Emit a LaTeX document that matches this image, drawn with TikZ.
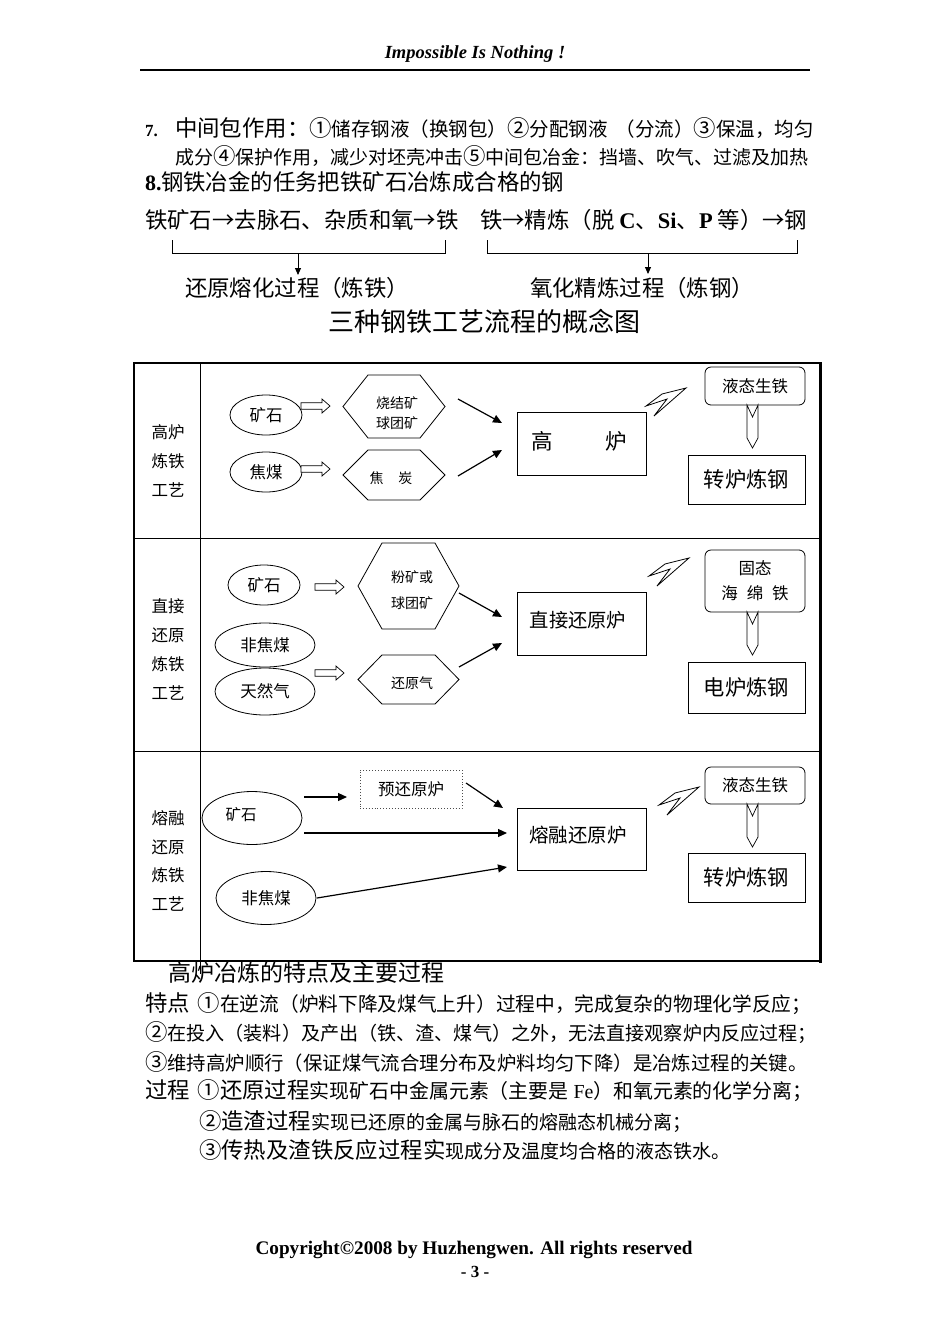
\documentclass[tikz,border=0pt]{standalone}
\usepackage{fontspec}
\setmainfont{Liberation Serif}
\newfontfamily\cjk{Noto Sans CJK SC}
\usetikzlibrary{arrows.meta,shapes.geometric}
\newcommand{\fsz}[1]{\fontsize{#1}{#1}\selectfont}
\newcommand{\BG}{\cjk\fontsize{22.4}{26}\selectfont}
\newcommand{\SM}{\cjk\fontsize{19}{22}\selectfont}
\newcommand{\SMs}[1]{\cjk\fontsize{#1}{22}\selectfont}
\newcommand{\hexa}[2]{\draw[line width=0.8pt] (#1.west) -- ([xshift=#2]#1.north west) -- ([xshift=-#2]#1.north east) -- (#1.east) -- ([xshift=-#2]#1.south east) -- ([xshift=#2]#1.south west) -- cycle;}
\newcommand{\harr}[2]{\draw[line width=0.7pt, fill=white] #1 -- ++(0,-3.3) -- ++(#2-8,0) -- ++(0,-3.7) -- ++(8,7) -- ++(-8,7) -- ++(0,-3.7) -- ++(-#2+8,0) -- cycle;}
\newcommand{\darr}[1]{\draw[line width=0.7pt, fill=white] ([xshift=-8pt]#1.south) -- ++(5.5,12) -- ++(5.5,-12) -- ++(0,33) -- ++(-5.5,10) -- ++(-5.5,-10) -- cycle;}
\newcommand{\bolt}[1]{\draw[line width=0.8pt, fill=white] #1 -- ++(-24,6) -- ++(-16,12) -- ++(21,-7) -- ++(-13,17) -- cycle;}
\begin{document}
\begin{tikzpicture}[x=1pt,y=-1pt,
  every node/.style={inner sep=0pt, outer sep=0pt},
  tl/.style={anchor=base west},
  ell/.style={draw, ellipse, line width=0.8pt, font=\cjk\fsz{16.5}},
  bx/.style={draw, rectangle, line width=0.8pt},
  rr/.style={draw, rectangle, rounded corners=6pt, line width=0.8pt, minimum width=100, align=center},
  hexn/.style={minimum width=102},
  htxt/.style={align=center},
  arr/.style={line width=1.2pt, -{Triangle[length=9pt,width=8pt]}},
  barr/.style={line width=0.9pt, -{Triangle[length=7pt,width=6pt]}},
  lab/.style={font=\cjk\fontsize{16.5}{28.7}\selectfont, align=center},
]
\useasboundingbox (0,0) rectangle (950,1344);
\fill[white] (0,0) rectangle (950,1344);

% header
\node[anchor=base] (hd) at (475,58.5) {\rmfamily\bfseries\itshape\fsz{18.5}Impossible Is Nothing !};
\coordinate (hl1) at (140,70);
\coordinate (hl2) at (810,70);
\draw[line width=1.5pt] (hl1) -- (hl2);

% item 7 and 8
\node[tl] (n7) at (145,136.5) {\rmfamily\bfseries\fsz{17}7.};
\node[tl] (l7a) at (175,136.5) {\BG 中间包作用：①\SMs{19.5}储存钢液（换钢包）\BG ②\SMs{19.5}分配钢液\hspace{8pt}（分流）\BG ③\SMs{19.5}保温，均匀};
\node[tl] (l7b) at (175,164) {\SM 成分\BG ④\SM 保护作用，减少对坯壳冲击\BG ⑤\SM 中间包冶金：挡墙、吹气、过滤及加热};
\node[tl] (n8) at (145,190.5) {\rmfamily\bfseries\fsz{22}8.};
\node[tl] (l8) at (161,190.5) {\BG 钢铁冶金的任务把铁矿石冶炼成合格的钢};

\node[tl] (l4a) at (145,228.5) {\BG 铁矿石→去脉石、杂质和氧→铁};
\node[tl] (l4b) at (480,228.5) {\BG 铁→精炼（脱\hspace{5pt}{\rmfamily\bfseries C}、{\rmfamily\bfseries Si}、{\rmfamily\bfseries P}\hspace{5pt}等）→钢};

% brackets
\coordinate (ba1) at (172,240); \coordinate (ba2) at (172,253);
\coordinate (ba3) at (445,253); \coordinate (ba4) at (445,240);
\coordinate (bam) at (298,253); \coordinate (bae) at (298,275);
\draw[line width=0.9pt] (ba1) -- (ba2) -- (ba3) -- (ba4);
\draw[barr] (bam) -- (bae);
\coordinate (bb1) at (487,240); \coordinate (bb2) at (487,253);
\coordinate (bb3) at (797,253); \coordinate (bb4) at (797,240);
\coordinate (bbm) at (648,253); \coordinate (bbe) at (648,274);
\draw[line width=0.9pt] (bb1) -- (bb2) -- (bb3) -- (bb4);
\draw[barr] (bbm) -- (bbe);

\node[anchor=base] (lb1) at (297,296.5) {\BG 还原熔化过程（炼铁）};
\node[anchor=base] (lb2) at (642,296.5) {\BG 氧化精炼过程（炼钢）};
\node[anchor=base] (ttl) at (484,331) {\cjk\fsz{26}三种钢铁工艺流程的概念图};

% table frame
\draw[line width=1.6pt] (134,363) rectangle (820,961);
\draw[line width=3pt] (820,362) -- (820,962.5);
\draw[line width=2.4pt] (134,961) -- (821,961);
\draw[line width=1pt] (200,363) -- (200,974);
\draw[line width=1pt] (134,538) -- (820,538);
\draw[line width=1pt] (134,751) -- (820,751);

% ---------------- row 1
\node[lab] (lab1) at (168,461) {高炉\\炼铁\\工艺};
\node[ell, minimum width=72, minimum height=40] (e11) at (266,415) {矿石};
\node[ell, minimum width=72, minimum height=40] (e12) at (266,472) {焦煤};
\harr{(301,406)}{29}
\harr{(301,469)}{29}
\node[hexn, minimum height=63] (h11) at (394,406.5) {};
\hexa{h11}{25}
\node[htxt, font=\cjk\fontsize{14}{20}\selectfont] (t11) at (397,413) {烧结矿\\球团矿};
\node[hexn, minimum height=50] (h12) at (394,475) {};
\hexa{h12}{25}
\node[font=\cjk\fsz{14}] (t12) at (391,478) {焦\hspace{15pt}炭};
\node[bx, minimum width=129, minimum height=63] (b1) at (581.5,443.5) {};
\node[font=\cjk\fsz{21.5}] (tb1) at (579,441) {高\hspace{53pt}炉};
\coordinate (a11s) at (458,399); \coordinate (a11e) at (502,423);
\coordinate (a12s) at (458,476); \coordinate (a12e) at (502,450);
\draw[arr] (a11s) -- (a11e);
\draw[arr] (a12s) -- (a12e);
\bolt{(686,388)}
\node[rr, minimum height=38, font=\cjk\fsz{16.5}] (rr1) at (755,386) {液态生铁};
\darr{rr1}
\node[bx, minimum width=117, minimum height=49, font=\cjk\fsz{21.3}] (s1) at (746.5,479.5) {转炉炼钢};

% ---------------- row 2
\node[lab] (lab2) at (168,649.5) {直接\\还原\\炼铁\\工艺};
\node[ell, minimum width=72, minimum height=40] (e21) at (264,585) {矿石};
\node[ell, minimum width=100, minimum height=44] (e22) at (265,645) {非焦煤};
\node[ell, minimum width=100, minimum height=47] (e23) at (265,691.5) {天然气};
\harr{(315,587)}{29}
\harr{(315,673)}{29}
\node[hexn, minimum width=101, minimum height=86] (h21) at (408.5,586) {};
\hexa{h21}{24}
\node[htxt, font=\cjk\fontsize{14}{26}\selectfont] (t21) at (412,590) {粉矿或\\球团矿};
\node[hexn, minimum width=101, minimum height=49] (h22) at (408.5,679.5) {};
\hexa{h22}{24}
\node[font=\cjk\fsz{14}] (t22) at (412,683) {还原气};
\node[bx, minimum width=129, minimum height=63] (b2) at (581.5,623.5) {};
\node[font=\cjk\fsz{19.3}] (tb2) at (578,620) {直接还原炉};
\coordinate (a21s) at (459,593); \coordinate (a21e) at (502,617);
\coordinate (a22s) at (459,667); \coordinate (a22e) at (502,643);
\draw[arr] (a21s) -- (a21e);
\draw[arr] (a22s) -- (a22e);
\bolt{(689,558)}
\node[rr, minimum height=62, font=\cjk\fontsize{16.5}{25}\selectfont] (rr2) at (755,581) {固态\\海\hspace{9pt}绵\hspace{9pt}铁};
\darr{rr2}
\node[bx, minimum width=117, minimum height=51, font=\cjk\fsz{21.3}] (s2) at (746.5,687.5) {电炉炼钢};

% ---------------- row 3
\node[lab] (lab3) at (168,861) {熔融\\还原\\炼铁\\工艺};
\node[ell, minimum width=100, minimum height=53] (e31) at (252,818) {};
\node[font=\cjk\fsz{15.5}] (t31) at (241,815) {矿石};
\node[ell, minimum width=100, minimum height=53] (e32) at (266,898) {非焦煤};
\node[draw=black!70, dotted, line width=0.9pt, minimum width=102, minimum height=38, font=\cjk\fsz{16.5}] (p3) at (411,789) {预还原炉};
\node[bx, minimum width=129, minimum height=62] (b3) at (581.5,839) {};
\node[font=\cjk\fsz{19.5}] (tb3) at (578,835) {熔融还原炉};
\coordinate (a31s) at (304,797); \coordinate (a31e) at (347,797);
\coordinate (a32s) at (466,783); \coordinate (a32e) at (503,808);
\coordinate (a33s) at (304,833); \coordinate (a33e) at (507,833);
\coordinate (a34s) at (317,898); \coordinate (a34e) at (507,867);
\draw[arr] (a31s) -- (a31e);
\draw[arr] (a32s) -- (a32e);
\draw[arr] (a33s) -- (a33e);
\draw[arr] (a34s) -- (a34e);
\bolt{(699,787)}
\node[rr, minimum height=37, font=\cjk\fsz{16.5}] (rr3) at (755,785.5) {液态生铁};
\darr{rr3}
\node[bx, minimum width=117, minimum height=49, font=\cjk\fsz{21.3}] (s3) at (746.5,877.5) {转炉炼钢};

% ---------------- bottom text
\node[tl] (hh) at (168,981.5) {\cjk\fsz{23}高炉冶炼的特点及主要过程};
\node[tl] (p1) at (145,1011.5) {\BG 特点\hspace{8pt}①\SMs{19.7}在逆流（炉料下降及煤气上升）过程中，完成复杂的物理化学反应；};
\node[tl] (p2) at (145,1040) {\BG ②\SMs{19.1}在投入（装料）及产出（铁、渣、煤气）之外，无法直接观察炉内反应过程；};
\node[tl] (p3t) at (145,1070) {\BG ③\SMs{19.4}维持高炉顺行（保证煤气流合理分布及炉料均匀下降）是冶炼过程的关键。};
\node[tl] (q1) at (145,1098.5) {\BG 过程\hspace{8pt}①还原过程\SMs{19.9}实现矿石中金属元素（主要是\hspace{5pt}{\rmfamily Fe}）和氧元素的化学分离；};
\node[tl] (q2) at (199,1129.5) {\BG ②造渣过程\SM 实现已还原的金属与脉石的熔融态机械分离；};
\node[tl] (q3) at (199,1158.5) {\BG ③传热及渣铁反应过程实\SM 现成分及温度均合格的液态铁水。};

% footer
\node[anchor=base] (cp) at (474,1254) {\rmfamily\bfseries\fsz{19.2}Copyright©2008 by Huzhengwen. All rights reserved};
\node[anchor=base] (pg) at (475,1277) {\rmfamily\bfseries\fsz{17}- 3 -};
\end{tikzpicture}
\end{document}
